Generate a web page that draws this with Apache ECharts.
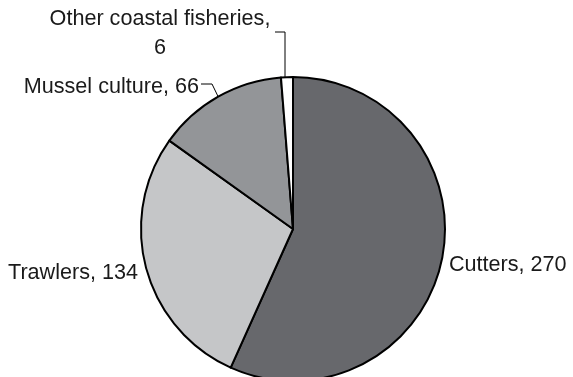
<!DOCTYPE html>
<html>
<head>
<meta charset="utf-8">
<script src="https://cdn.jsdelivr.net/npm/echarts@6/dist/echarts.min.js"></script>
<style>
  html, body { margin: 0; padding: 0; background: #fff; }
  #main { width: 573px; height: 377px; }
</style>
</head>
<body>
<div id="main"></div>
<script>
var categories = ['Cutters', 'Trawlers', 'Mussel culture', 'Other coastal fisheries'];
var values = [270, 134, 66, 6];
var colors = ['#67686c', '#c5c6c8', '#939598', '#ffffff'];

var myChart = echarts.init(document.getElementById('main'));

var pieData = categories.map(function (name, i) {
    var item = { name: name, value: values[i], itemStyle: { color: colors[i] } };
    if (i >= 2) {
        item.labelLine = { show: true };
    }
    return item;
});

var option = {
    animation: false,
    series: [{
        type: 'pie',
        center: [293, 229],
        radius: 152,
        startAngle: 90,
        clockwise: true,
        avoidLabelOverlap: false,
        itemStyle: { borderColor: '#000', borderWidth: 2 },
        label: {
            show: true,
            position: 'outside',
            fontFamily: 'Liberation Sans, Arial, sans-serif',
            fontSize: 21.6,
            color: '#1a1a1a',
            lineHeight: 29,
            formatter: function (p) {
                if (p.dataIndex === 3) return p.name + ',\n' + p.value;
                return p.name + ', ' + p.value;
            }
        },
        labelLine: {
            show: false,
            length: 4,
            length2: 4,
            lineStyle: { color: '#000', width: 1 }
        },
        labelLayout: function (params) {
            var i = params.dataIndex;
            var p0 = params.labelLinePoints ? params.labelLinePoints[0] : null;
            if (i === 0) {
                return { x: 449, y: 265, align: 'left', verticalAlign: 'middle' };
            }
            if (i === 1) {
                return { x: 138, y: 273, align: 'right', verticalAlign: 'middle' };
            }
            if (i === 2) {
                return {
                    x: 199, y: 87, align: 'right', verticalAlign: 'middle',
                    labelLinePoints: [p0, [212, 84], [201, 84]]
                };
            }
            return {
                x: 160, y: 34, align: 'center', verticalAlign: 'middle',
                labelLinePoints: [[285, p0[1]], [285, 32], [275, 32]]
            };
        },
        data: pieData
    }]
};
myChart.setOption(option);
</script>
</body>
</html>
